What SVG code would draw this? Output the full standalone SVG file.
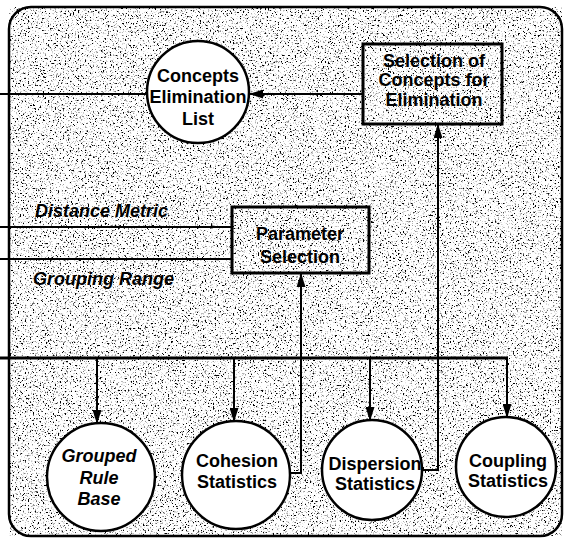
<svg xmlns="http://www.w3.org/2000/svg" width="566" height="542" viewBox="0 0 566 542">
<defs>
<filter id="grain" x="0" y="0" width="1" height="1">
<feTurbulence type="fractalNoise" baseFrequency="0.6" numOctaves="3" seed="7" result="noise"/>
<feColorMatrix in="noise" type="matrix" values="0 0 0 0 0  0 0 0 0 0  0 0 0 0 0  7 0 0 0 -3.95" result="mask"/>
<feFlood flood-color="#ffffff" result="bg"/>
<feFlood flood-color="#000000" result="blk"/>
<feComposite in="blk" in2="mask" operator="in" result="dots"/>
<feMerge><feMergeNode in="bg"/><feMergeNode in="dots"/></feMerge>
</filter>
<marker id="ah" viewBox="0 0 14 9" refX="13" refY="4.5" markerWidth="14" markerHeight="9" markerUnits="userSpaceOnUse" orient="auto">
<path d="M0,0 L14,4.5 L0,9 Z" fill="#000"/>
</marker>
<style>
.t{font-family:"Liberation Sans",Arial,sans-serif;font-weight:bold;font-size:18px;fill:#000;text-anchor:middle}
.it{font-style:italic}
.l{fill:none;stroke:#000;stroke-width:2}
.bus{fill:none;stroke:#000;stroke-width:3}
.a{fill:none;stroke:#000;stroke-width:2;marker-end:url(#ah)}
.c{fill:#fff;stroke:#000;stroke-width:2.5}
.b{fill:none;stroke:#000;stroke-width:3}
</style>
</defs>
<rect width="566" height="542" fill="#fff"/>
<rect x="9" y="7" width="553" height="529" rx="22" fill="#fff" filter="url(#grain)"/>
<rect x="9" y="7" width="553" height="529" rx="22" fill="none" stroke="#000" stroke-width="2.5"/>

<g id="connectors">
<path class="l" d="M0,94 H147"/>
<path class="a" d="M362,94 H250"/>
<path class="l" d="M0,227 H232"/>
<path class="l" d="M0,259 H232"/>
<path class="bus" d="M0,358 H508"/>
<path class="a" d="M97,358 V423"/>
<path class="a" d="M234,358 V421"/>
<path class="a" d="M370,358 V420"/>
<path class="a" d="M507,358 V417"/>
<path class="a" d="M289,473 H301 V274"/>
<path class="a" d="M422,470 H438 V125"/>
</g>

<g id="concepts-elimination-list">
<circle class="c" cx="198" cy="92" r="51"/>
<text class="t" x="198" y="82" font-size="17">Concepts</text>
<text class="t" x="198" y="103" font-size="17">Elimination</text>
<text class="t" x="198" y="125" font-size="17">List</text>
</g>

<g id="selection-of-concepts">
<rect class="b" x="363" y="44" width="139" height="80"/>
<text class="t" x="434" y="67" font-size="17">Selection of</text>
<text class="t" x="434" y="86" font-size="17">Concepts for</text>
<text class="t" x="434" y="106" font-size="17">Elimination</text>
</g>

<g id="parameter-selection">
<rect class="b" x="232" y="207" width="137" height="66"/>
<text class="t" x="300" y="240">Parameter</text>
<text class="t" x="300" y="263">Selection</text>
</g>

<g id="labels">
<text class="t it" x="35" y="217" style="text-anchor:start" font-size="17">Distance Metric</text>
<text class="t it" x="33" y="285" style="text-anchor:start">Grouping Range</text>
</g>

<g id="grouped-rule-base">
<circle class="c" cx="101" cy="477" r="54"/>
<text class="t it" x="99" y="462">Grouped</text>
<text class="t it" x="99" y="484">Rule</text>
<text class="t it" x="99" y="505">Base</text>
</g>

<g id="cohesion-statistics">
<circle class="c" cx="236" cy="475" r="54"/>
<text class="t" x="237" y="467">Cohesion</text>
<text class="t" x="237" y="488">Statistics</text>
</g>

<g id="dispersion-statistics">
<circle class="c" cx="372" cy="470" r="50"/>
<text class="t" x="375" y="470">Dispersion</text>
<text class="t" x="375" y="490">Statistics</text>
</g>

<g id="coupling-statistics">
<circle class="c" cx="506" cy="467" r="50"/>
<text class="t" x="508" y="467">Coupling</text>
<text class="t" x="508" y="487">Statistics</text>
</g>
</svg>
